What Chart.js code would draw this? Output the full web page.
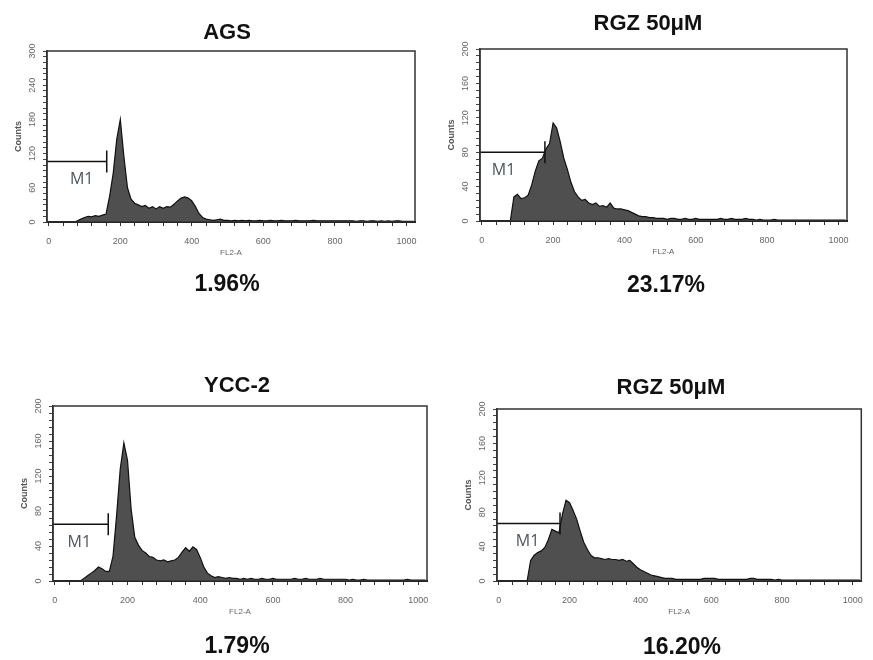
<!DOCTYPE html>
<html>
<head>
<meta charset="utf-8">
<script src="https://cdn.jsdelivr.net/npm/chart.js@4.4.1/dist/chart.umd.min.js"></script>
<style>
  body { margin: 0; background: #fff; }
  #page { position: relative; width: 873px; height: 660px; overflow: hidden; }
  canvas { position: absolute; left: 0; top: 0; }
  .t { position: absolute; transform: translate(-50%, -50%); font-family: "Liberation Sans", Arial, sans-serif;
       font-weight: bold; color: #111; white-space: nowrap; }
</style>
</head>
<body>
<div id="page">
  <canvas id="c1" width="873" height="660"></canvas>
  <canvas id="c2" width="873" height="660"></canvas>
  <canvas id="c3" width="873" height="660"></canvas>
  <canvas id="c4" width="873" height="660"></canvas>
  <div class="t" style="left:227px;top:32px;font-size:22px">AGS</div>
  <div class="t" style="left:648px;top:23px;font-size:22px">RGZ 50μM</div>
  <div class="t" style="left:237px;top:385px;font-size:22px">YCC-2</div>
  <div class="t" style="left:671px;top:387px;font-size:22px">RGZ 50μM</div>
  <div class="t" style="left:227px;top:283px;font-size:23px">1.96%</div>
  <div class="t" style="left:666px;top:284px;font-size:23px">23.17%</div>
  <div class="t" style="left:237px;top:645px;font-size:23px">1.79%</div>
  <div class="t" style="left:682px;top:646px;font-size:23px">16.20%</div>
</div>
<script>
// FL2-A channels (every 10th channel)
const channels = [
  0, 10, 20, 30, 40, 50, 60, 70, 80, 90, 100, 110, 120, 130, 140, 150, 160, 170, 180, 190,
  200, 210, 220, 230, 240, 250, 260, 270, 280, 290, 300, 310, 320, 330, 340, 350, 360, 370, 380, 390,
  400, 410, 420, 430, 440, 450, 460, 470, 480, 490, 500, 510, 520, 530, 540, 550, 560, 570, 580, 590,
  600, 610, 620, 630, 640, 650, 660, 670, 680, 690, 700, 710, 720, 730, 740, 750, 760, 770, 780, 790,
  800, 810, 820, 830, 840, 850, 860, 870, 880, 890, 900, 910, 920, 930, 940, 950, 960, 970, 980, 990,
  1000, 1010, 1020
];

const agsCounts = [
  0, 0, 0, 0, 0, 0, 0, 0, 2, 5, 8, 10, 9, 11, 10, 12, 14, 45, 85, 145,
  180, 115, 60, 40, 33, 30, 27, 29, 24, 27, 23, 27, 24, 27, 26, 31, 37, 42, 44, 42,
  37, 27, 15, 8, 5, 4, 3, 4, 5, 3, 3, 2, 3, 2, 3, 2, 3, 2, 2, 3,
  2, 2, 3, 2, 2, 3, 2, 2, 2, 3, 2, 2, 2, 2, 3, 2, 2, 2, 2, 2,
  2, 2, 2, 2, 2, 2, 1, 2, 2, 1, 2, 2, 1, 2, 1, 2, 1, 2, 2, 1,
  1, 1, 1
];

const rgzTopCounts = [
  0, 0, 0, 0, 0, 0, 0, 0, 0, 28, 31, 26, 27, 30, 42, 58, 70, 73, 84, 90,
  114, 108, 92, 73, 60, 45, 34, 28, 24, 25, 21, 19, 21, 17, 18, 16, 21, 15, 14, 14,
  13, 12, 10, 8, 6, 5, 5, 4, 4, 3, 3, 3, 2, 3, 3, 2, 2, 3, 2, 2,
  3, 2, 2, 2, 2, 2, 2, 3, 2, 2, 3, 2, 2, 2, 3, 2, 2, 1, 2, 1,
  1, 1, 2, 1, 1, 1, 1, 1, 1, 1, 1, 1, 1, 1, 1, 1, 1, 1, 1, 1,
  1, 1, 1
];

const yccCounts = [
  0, 0, 0, 0, 0, 0, 0, 0, 3, 6, 9, 12, 16, 14, 11, 11, 28, 75, 128, 158,
  138, 82, 50, 41, 35, 32, 28, 27, 24, 23, 24, 22, 23, 24, 27, 33, 38, 34, 39, 36,
  27, 16, 9, 6, 4, 5, 4, 3, 4, 3, 3, 2, 3, 2, 3, 2, 2, 3, 2, 2,
  3, 2, 2, 2, 2, 2, 3, 2, 2, 3, 2, 2, 2, 3, 2, 2, 2, 2, 2, 2,
  2, 1, 2, 1, 1, 2, 1, 1, 1, 1, 1, 1, 1, 1, 1, 1, 1, 2, 1, 1,
  1, 1, 1
];

const rgzBottomCounts = [
  0, 0, 0, 0, 0, 0, 0, 0, 0, 24, 30, 33, 35, 39, 48, 60, 58, 56, 78, 94,
  91, 82, 72, 58, 45, 37, 30, 27, 27, 26, 25, 26, 25, 25, 24, 25, 23, 24, 20, 16,
  13, 11, 9, 7, 6, 5, 4, 3, 3, 3, 2, 2, 2, 2, 2, 2, 2, 2, 3, 3,
  3, 3, 2, 2, 2, 2, 2, 2, 2, 2, 2, 3, 3, 2, 2, 2, 2, 2, 1, 2,
  1, 1, 1, 1, 1, 1, 1, 1, 1, 1, 1, 1, 1, 1, 1, 1, 1, 1, 1, 1,
  1, 1, 1
];

// M1 gate: right end (channel), level (counts), label anchor (channel)
const gateEnds = [162, 177, 147, 173];
const gateLevels = [106, 80, 65, 67];
const gateLabelAt = [59, 28, 35, 48];

const yMaxes = [300, 200, 200, 200];
const yLabelSteps = [60, 40, 40, 40];
const yMinorSteps = [10, 8, 8, 8];

const facsPlugin = {
  id: 'facs',
  afterDatasetsDraw(chart, args, opts) {
    const { ctx, chartArea: a, scales: { x, y } } = chart;
    ctx.save();
    const gy = y.getPixelForValue(opts.level);
    const gx = x.getPixelForValue(opts.end);
    ctx.strokeStyle = '#111';
    ctx.lineWidth = 1.5;
    ctx.beginPath();
    ctx.moveTo(a.left, gy);
    ctx.lineTo(gx, gy);
    ctx.moveTo(gx, gy - 11);
    ctx.lineTo(gx, gy + 11);
    ctx.stroke();
    ctx.font = '16px "Open Sans", sans-serif';
    ctx.fillStyle = '#4a5660';
    ctx.textBaseline = 'middle';
    ctx.fillText('M1', x.getPixelForValue(opts.labelAt), gy + 18);
    ctx.restore();
  },
  afterDraw(chart, args, opts) {
    const { ctx, chartArea: a, scales: { y } } = chart;
    ctx.save();
    ctx.strokeStyle = '#333';
    ctx.lineWidth = 1.5;
    ctx.strokeRect(a.left, a.top, a.right - a.left, a.bottom - a.top);
    ctx.font = '9px "Liberation Sans", Arial, sans-serif';
    ctx.fillStyle = '#666';
    ctx.textAlign = 'center';
    ctx.textBaseline = 'middle';
    y.ticks.forEach(t => {
      if (t.value % opts.labelStep !== 0) return;
      ctx.save();
      ctx.translate(a.left - 14, y.getPixelForValue(t.value));
      ctx.rotate(-Math.PI / 2);
      ctx.fillText(String(t.value), 0, 0);
      ctx.restore();
    });
    ctx.restore();
  }
};

// plot-area boxes in page pixels: left, top, right, bottom
const boxes = [
  [47, 51, 415, 222],
  [480, 49, 847, 221],
  [53, 406, 427, 581],
  [497, 409, 865, 581]
];
const series = [agsCounts, rgzTopCounts, yccCounts, rgzBottomCounts];

series.forEach((counts, i) => {
  const [l, t, r, b] = boxes[i];
  new Chart(document.getElementById('c' + (i + 1)), {
    type: 'line',
    plugins: [facsPlugin],
    data: {
      datasets: [{
        data: channels.map((c, k) => ({ x: c, y: counts[k] })),
        fill: 'origin',
        backgroundColor: '#4f4f4f',
        borderColor: '#111',
        borderWidth: 1.2,
        pointRadius: 0,
        tension: 0
      }]
    },
    options: {
      responsive: false,
      animation: false,
      events: [],
      layout: { padding: { left: l - 34, top: t, right: 873 - r, bottom: 660 - b - 36 } },
      plugins: {
        legend: { display: false },
        tooltip: { enabled: false },
        facs: { end: gateEnds[i], level: gateLevels[i], labelAt: gateLabelAt[i], labelStep: yLabelSteps[i] }
      },
      scales: {
        x: {
          type: 'linear',
          min: -5,
          max: 1024,
          afterFit: s => { s.height = 36; },
          border: { display: true, color: '#000', width: 2 },
          grid: { drawOnChartArea: false, tickLength: 4, color: '#333' },
          ticks: {
            stepSize: 40,
            includeBounds: false,
            autoSkip: false,
            maxRotation: 0,
            padding: 10,
            color: '#666',
            font: { family: '"Liberation Sans", Arial, sans-serif', size: 9 },
            callback: v => (v % 200 === 0 ? String(v) : '')
          },
          title: {
            display: true,
            text: 'FL2-A',
            color: '#666',
            padding: 0,
            font: { family: '"Liberation Sans", Arial, sans-serif', size: 8 }
          }
        },
        y: {
          min: 0,
          max: yMaxes[i],
          afterFit: s => { s.width = 34; },
          border: { display: true, color: '#333', width: 1.5 },
          grid: { drawOnChartArea: false, tickLength: 4, color: '#444' },
          ticks: { stepSize: yMinorSteps[i], display: false, autoSkip: false },
          title: {
            display: true,
            text: 'Counts',
            color: '#555',
            padding: 0,
            font: { family: '"Liberation Sans", Arial, sans-serif', size: 9, weight: 'bold' }
          }
        }
      }
    }
  });
});
</script>
</body>
</html>
